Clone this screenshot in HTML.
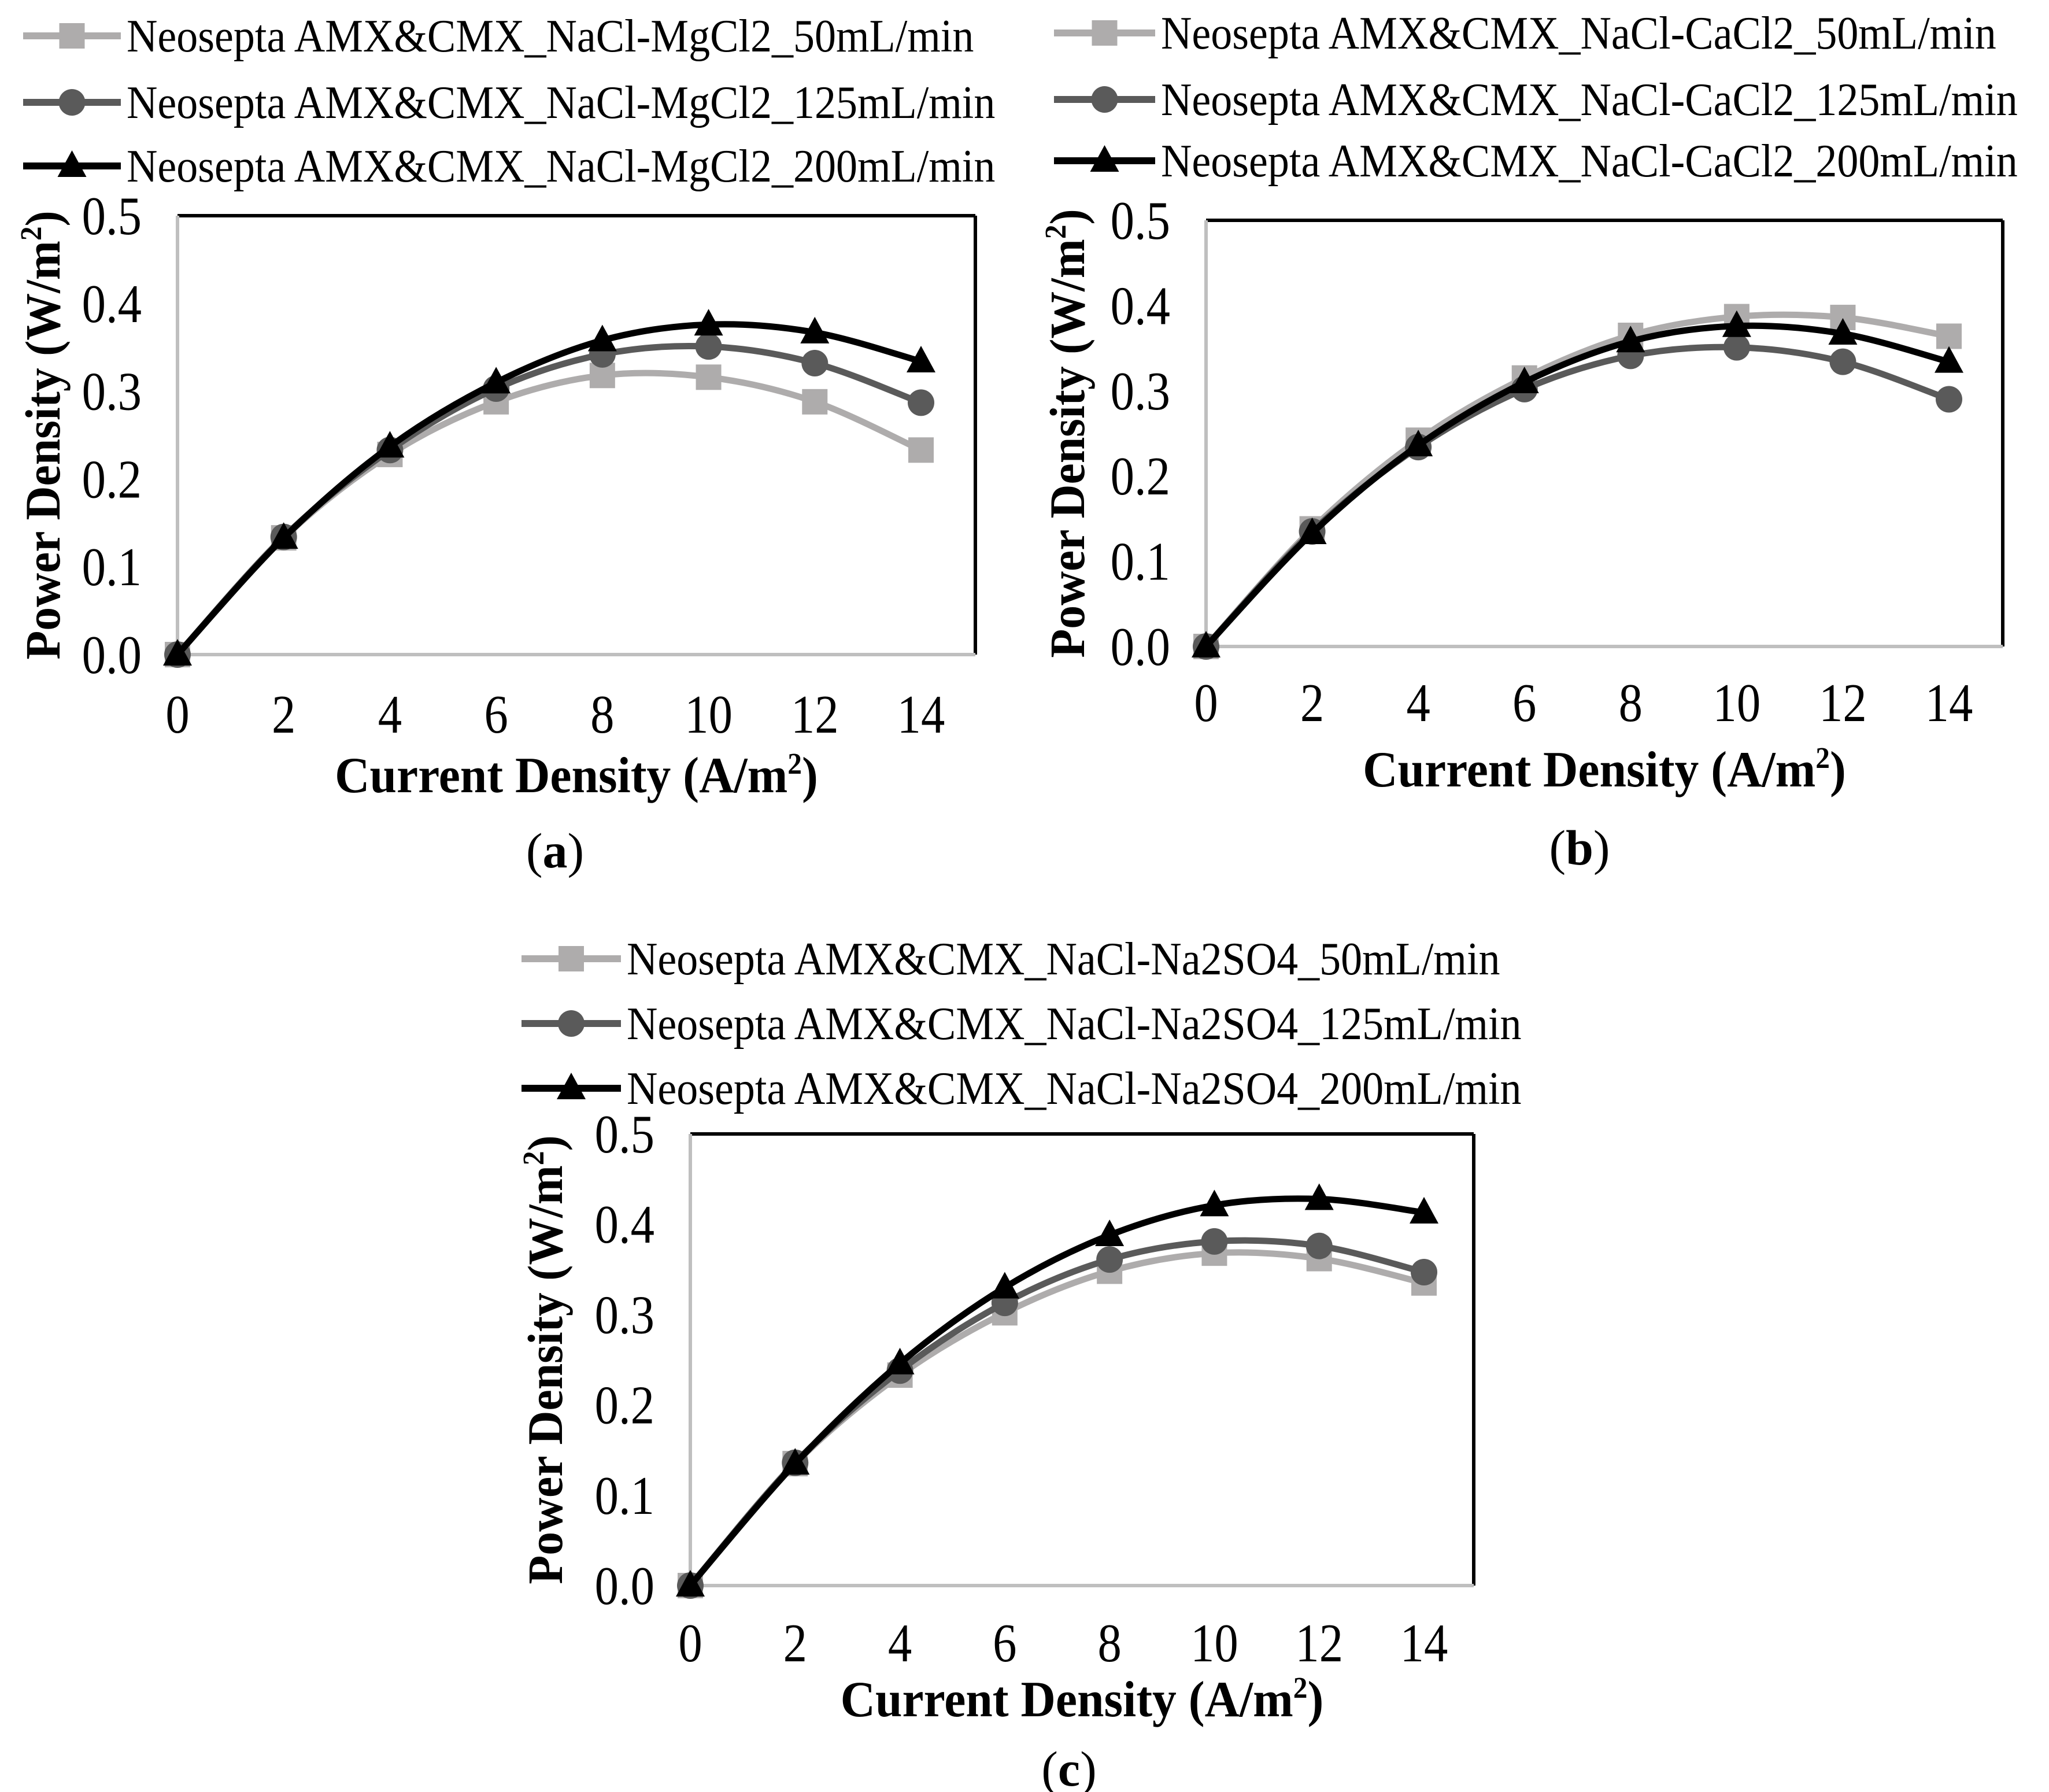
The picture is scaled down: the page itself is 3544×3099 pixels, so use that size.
<!DOCTYPE html>
<html><head><meta charset="utf-8"><style>
html,body{margin:0;padding:0;background:#fff;}
svg{display:block;}
text{font-family:"Liberation Serif",serif;}
</style></head><body>
<svg id="fig" width="3544" height="3099" viewBox="0 0 3544 3099" xmlns="http://www.w3.org/2000/svg"></svg>
<script>
const xCategories = [0,2,4,6,8,10,12,14];
const yTicks = [0.0,0.1,0.2,0.3,0.4,0.5];
const yTickLabels = ["0.0","0.1","0.2","0.3","0.4","0.5"];
const xTickLabels = ["0","2","4","6","8","10","12","14"];
const seriesNames = ["50mL/min","125mL/min","200mL/min"];
const a50  = [0,0.133,0.228,0.288,0.318,0.316,0.288,0.233];
const a125 = [0,0.134,0.233,0.303,0.342,0.351,0.332,0.287];
const a200 = [0,0.133,0.237,0.310,0.358,0.376,0.367,0.334];
const b50  = [0,0.138,0.242,0.315,0.365,0.387,0.386,0.364];
const b125 = [0,0.135,0.234,0.302,0.341,0.351,0.334,0.290];
const b200 = [0,0.133,0.236,0.310,0.358,0.376,0.367,0.334];
const c50  = [0,0.135,0.233,0.302,0.348,0.368,0.362,0.335];
const c125 = [0,0.136,0.238,0.313,0.361,0.381,0.376,0.347];
const c200 = [0,0.135,0.246,0.330,0.388,0.421,0.428,0.413];

const NS="http://www.w3.org/2000/svg";
const svg=document.getElementById('fig');
function el(tag,attrs,parent,txt){const e=document.createElementNS(NS,tag);for(const k in attrs)e.setAttribute(k,attrs[k]);if(txt!==undefined)e.textContent=txt;(parent||svg).appendChild(e);return e;}
const colors=["#aeacac","#5a5a5a","#000000"];
const markers=["square","circle","triangle"];

function marker(g,type,x,y,col){
  let m;
  if(type==="square") m=el('rect',{x:x-22,y:y-22,width:44,height:44,fill:col},g);
  else if(type==="circle") m=el('circle',{cx:x,cy:y,r:23,fill:col},g);
  else m=el('polygon',{points:`${x},${y-27} ${x+25},${y+19} ${x-25},${y+19}`,fill:col},g);
  return m;
}
function smoothPath(pts){
  let d=`M${pts[0][0]},${pts[0][1]}`;
  for(let i=0;i<pts.length-1;i++){
    const p0=pts[i-1]||pts[i],p1=pts[i],p2=pts[i+1],p3=pts[i+2]||p2;
    const c1x=p1[0]+(p2[0]-p0[0])/6,c1y=p1[1]+(p2[1]-p0[1])/6;
    const c2x=p2[0]-(p3[0]-p1[0])/6,c2y=p2[1]-(p3[1]-p1[1])/6;
    d+=` C${c1x},${c1y} ${c2x},${c2y} ${p2[0]},${p2[1]}`;
  }
  return d;
}
function ctext(parent,x,y,size,anchor,txt,sx){
  return el('text',{x:0,y:0,'font-size':size,'text-anchor':anchor,transform:`translate(${x},${y}) scale(${sx},1)`},parent,txt);
}

function panel(cfg){
  const g=el('g',{},svg);
  
  
  const xs=v=>cfg.x0+(v/14)*(cfg.x14-cfg.x0);
  const ys=v=>cfg.y0-(v/0.5)*(cfg.y0-cfg.yTop);
  const lg=el('g',{},g);
  
  
  cfg.series.forEach((s,i)=>{
    const y=cfg.legY[i];
    const e=el('g',{},lg);
    
    
    el('line',{x1:cfg.legX1,y1:y,x2:cfg.legX2,y2:y,stroke:colors[i],'stroke-width':12},e);
    marker(e,markers[i],(cfg.legX1+cfg.legX2)/2,y,colors[i]);
    const t=ctext(e,cfg.legX2+10,y+27,80,'start',cfg.prefix+seriesNames[i],0.925);
    
    
  });
  const box=el('g',{},g);
  
  
  el('line',{x1:cfg.x0,y1:cfg.yTop,x2:cfg.right,y2:cfg.yTop,stroke:'#000','stroke-width':6},box);
  el('line',{x1:cfg.right,y1:cfg.yTop,x2:cfg.right,y2:cfg.y0,stroke:'#000','stroke-width':6},box);
  const ya=el('line',{x1:cfg.x0,y1:cfg.yTop,x2:cfg.x0,y2:cfg.y0,stroke:'#bfbfbf','stroke-width':6},box);
  
  const xa=el('line',{x1:cfg.x0,y1:cfg.y0,x2:cfg.right,y2:cfg.y0,stroke:'#bfbfbf','stroke-width':6},box);
  
  yTicks.forEach((v,i)=>{
    const t=ctext(g,cfg.x0-62,ys(v)+32,94,'end',yTickLabels[i],0.88);
    
    
  });
  xCategories.forEach((v,i)=>{
    const t=ctext(g,xs(v),cfg.xTickY+32,94,'middle',xTickLabels[i],0.88);
    
    
  });
  const xt=el('text',{x:0,y:0,'font-size':88,'font-weight':'bold','text-anchor':'middle',transform:`translate(${(cfg.x0+cfg.right)/2},${cfg.xTitleY+30}) scale(0.95,1)`},g);
  xt.innerHTML='Current Density (A/m<tspan font-size="52" dy="-32">2</tspan><tspan dy="32">)</tspan>';
  
  
  const ymid=(cfg.yTop+cfg.y0)/2;
  const yt=el('text',{x:0,y:0,'font-size':86,'font-weight':'bold','text-anchor':'middle',transform:`translate(${cfg.yTitleX+30},${ymid}) rotate(-90) scale(0.95,1)`},g);
  yt.innerHTML='Power Density (W/m<tspan font-size="52" dy="-32">2</tspan><tspan dy="32">)</tspan>';
  
  
  const cap=el('text',{x:cfg.capX,y:cfg.capY+30,'font-size':86,'text-anchor':'middle'},g);
  cap.innerHTML='(<tspan font-weight="bold">'+cfg.id+'</tspan>)';
  
  
  cfg.series.forEach((vals,i)=>{
    const sg=el('g',{},g);
    
    
    const pts=vals.map((v,j)=>[xs(xCategories[j]),ys(v)]);
    const p=el('path',{d:smoothPath(pts),fill:'none',stroke:colors[i],'stroke-width':11},sg);
    
    
    pts.forEach(pt=>{
      const m=marker(sg,markers[i],pt[0],pt[1],colors[i]);
      
      
    });
  });
}

panel({id:'a',prefix:'Neosepta AMX&CMX_NaCl-MgCl2_',series:[a50,a125,a200],
  x0:307,x14:1593,right:1687,yTop:373,y0:1132,legY:[62,177,287],legX1:40,legX2:209,
  xTickY:1235,xTitleY:1340,yTitleX:73,capX:960,capY:1470});
panel({id:'b',prefix:'Neosepta AMX&CMX_NaCl-CaCl2_',series:[b50,b125,b200],
  x0:2086,x14:3371,right:3464,yTop:381,y0:1118,legY:[57,172,278],legX1:1823,legX2:1998,
  xTickY:1215,xTitleY:1330,yTitleX:1845,capX:2732,capY:1465});
panel({id:'c',prefix:'Neosepta AMX&CMX_NaCl-Na2SO4_',series:[c50,c125,c200],
  x0:1194,x14:2463,right:2549,yTop:1961,y0:2742,legY:[1658,1770,1882],legX1:902,legX2:1074,
  xTickY:2841,xTitleY:2938,yTitleX:942,capX:1849,capY:3058});
</script>
</body></html>
